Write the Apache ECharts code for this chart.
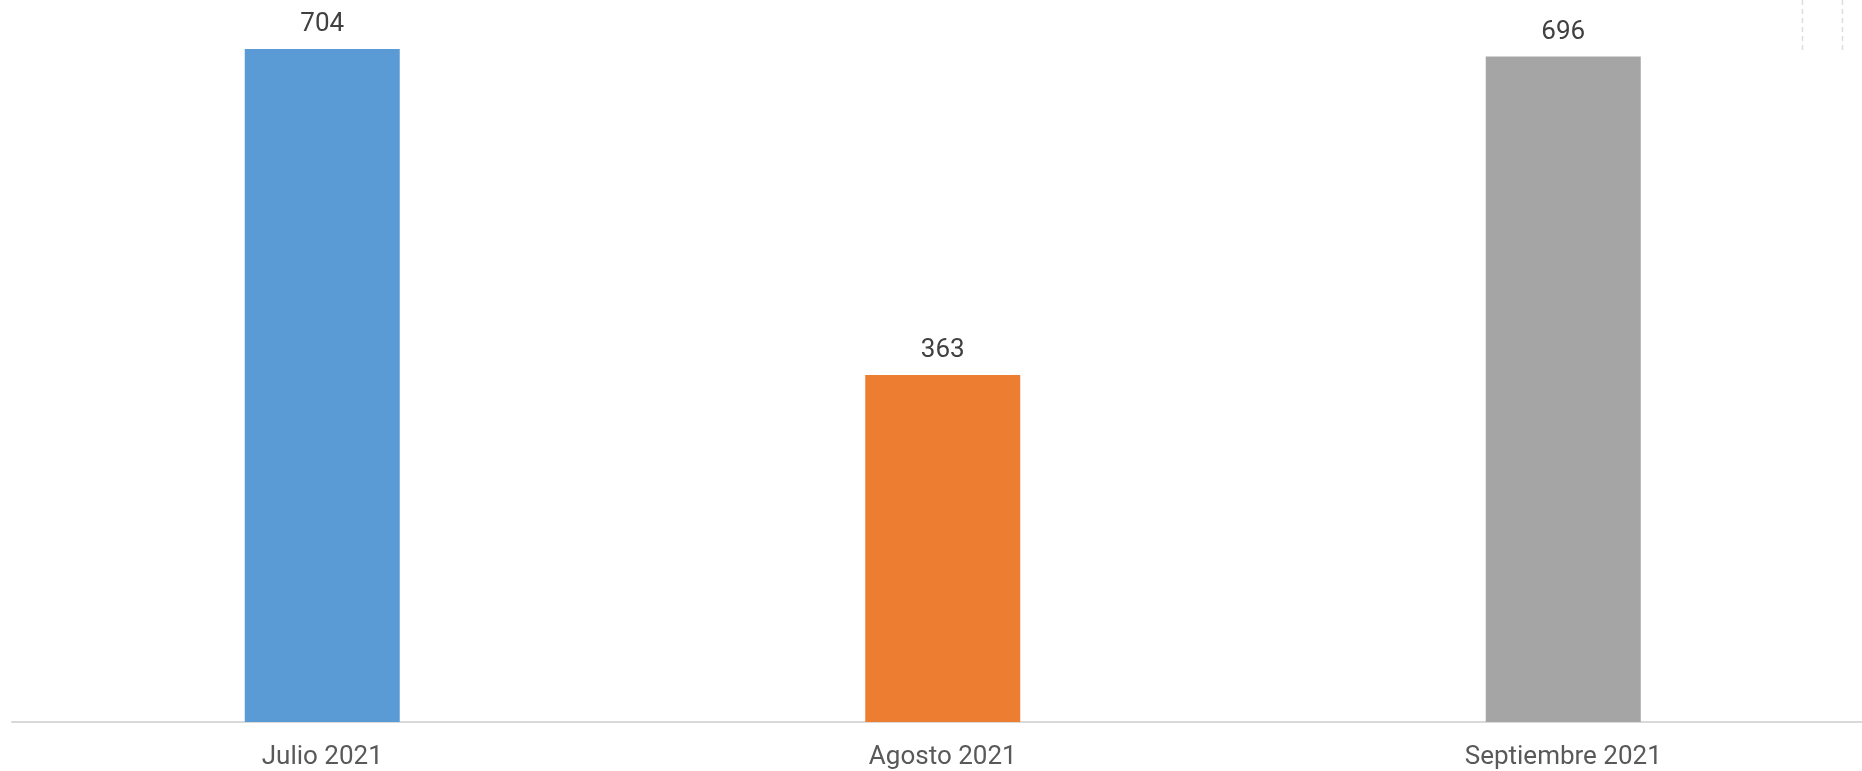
<!DOCTYPE html>
<html>
<head>
<meta charset="utf-8">
<script src="https://cdn.jsdelivr.net/npm/echarts@6/dist/echarts.min.js"></script>
<style>
  html, body { margin: 0; padding: 0; background: #ffffff; }
  #chart { width: 1862px; height: 771px; }
</style>
</head>
<body>
<div id="chart"></div>
<script>
// Monthly totals, third quarter 2021
const categories = ['Julio 2021', 'Agosto 2021', 'Septiembre 2021'];
const values = [704, 363, 696];
const barColors = ['#5B9BD5', '#ED7D31', '#A5A5A5'];

const chart = echarts.init(document.getElementById('chart'));

chart.setOption({
  animation: false,
  backgroundColor: '#ffffff',
  grid: {
    left: 12, top: 5, right: -11.5, bottom: 49,
    containLabel: false,
    outerBoundsMode: 'none'
  },
  xAxis: {
    type: 'category',
    data: categories,
    axisLine: { show: true, lineStyle: { color: '#d9d9d9', width: 2 } },
    axisTick: { show: false },
    axisLabel: {
      color: '#595959',
      fontFamily: 'Roboto',
      fontSize: 26,
      margin: 22
    }
  },
  yAxis: {
    type: 'value',
    min: 0,
    max: 750,
    show: false,
    splitLine: { show: false }
  },
  series: [{
    type: 'bar',
    barWidth: 155,
    data: values.map((v, i) => ({ value: v, itemStyle: { color: barColors[i] } })),
    label: {
      show: true,
      position: 'top',
      distance: 11,
      color: '#404040',
      fontFamily: 'Roboto',
      fontSize: 26
    }
  }],
  graphic: [
    { type: 'line', shape: { x1: 1802.5, y1: 0, x2: 1802.5, y2: 52 },
      style: { stroke: '#dcdcdc', lineWidth: 1.5, lineDash: [5, 4] } },
    { type: 'line', shape: { x1: 1842.5, y1: 0, x2: 1842.5, y2: 52 },
      style: { stroke: '#dcdcdc', lineWidth: 1.5, lineDash: [5, 4] } }
  ]
});
</script>
</body>
</html>
